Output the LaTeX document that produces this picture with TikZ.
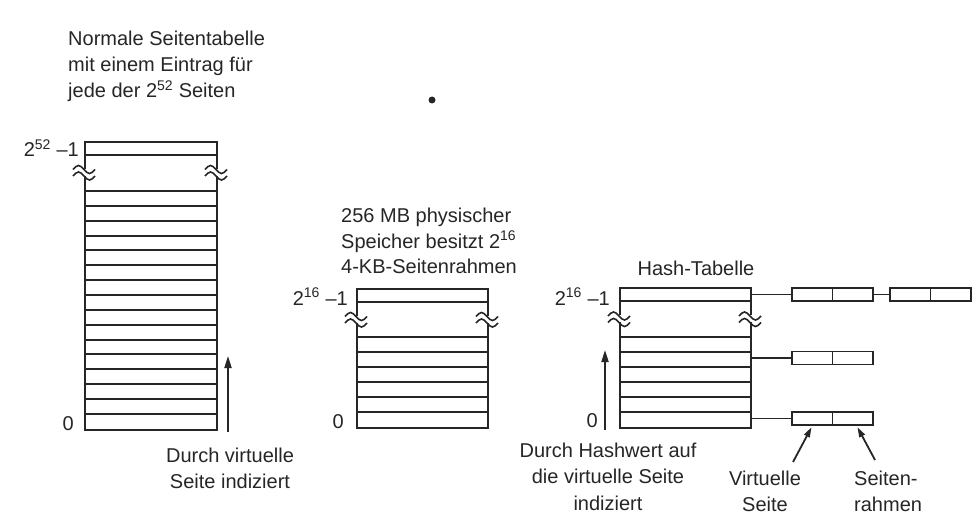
\documentclass[tikz,border=0pt]{standalone}
\usepackage{fontspec}
\setmainfont{Liberation Sans}
\usetikzlibrary{arrows.meta}
\definecolor{ink}{HTML}{262626}
\newcommand\brkmark[2]{%
  \fill[white] ({#1-3.5},{#2-3.5}) rectangle ({#1+3.5},{#2+3.5});
  \draw[brk] ({#1-11},{#2-2.5}) sin ({#1-5.5},{#2-6.5}) cos ({#1},{#2-2.5}) sin ({#1+5.5},{#2+1.5}) cos ({#1+11},{#2-2.5});
  \draw[brk] ({#1-11},{#2+4}) sin ({#1-5.5},{#2}) cos ({#1},{#2+4}) sin ({#1+5.5},{#2+8}) cos ({#1+11},{#2+4});
}
\begin{document}
\begin{tikzpicture}[x=1pt,y=-1pt,
  txt/.style={font=\fontsize{20}{26}\selectfont, text=ink, inner sep=0pt},
  tbl/.style={draw=ink, line width=1.8pt, inner sep=0pt, anchor=north west},
  row/.style={draw=ink, line width=1.8pt},
  brk/.style={draw=ink, line width=1.6pt},
  cell/.style={draw=ink, line width=1.8pt, minimum width=40.5pt, minimum height=13pt, inner sep=0pt},
  conn/.style={draw=ink, line width=1.8pt},
  arr/.style={draw=ink, line width=2pt, -{Triangle[length=12pt,width=7pt]}},
  sarr/.style={draw=ink, line width=1.8pt, -{Triangle[length=10pt,width=6pt]}, shorten >=1.5pt}]
\fill[white] (0,0) rectangle (979,532);
\useasboundingbox (0,0) rectangle (979,532);

% ---------- table 1 ----------
\node[tbl, minimum width=132pt, minimum height=288pt] (T1) at (84,141) {};
\foreach \y in {155,191,206,221,236,250,265,280,295,310,325,340,354,369,384,399,414}
  \draw[row] (84,\y) -- (216,\y);
\brkmark{84}{172}
\brkmark{216}{172}
\node[txt, anchor=base east] (T1top) at (79,157) {2\textsuperscript{52} –1};
\node[txt, anchor=base east] (T1zero) at (74,430) {0};
\coordinate (A1s) at (228,432);
\coordinate (A1e) at (228,356);
\draw[arr] (A1s) -- (A1e);
\node[txt, anchor=base] (D1a) at (230,462) {Durch virtuelle};
\node[txt, anchor=base] (D1b) at (230,488) {Seite indiziert};
\node[txt, anchor=base west] (N1a) at (68,46) {Normale Seitentabelle};
\node[txt, anchor=base west] (N1b) at (68,72) {mit einem Eintrag für};
\node[txt, anchor=base west] (N1c) at (68,98) {jede der 2\textsuperscript{52} Seiten};

% stray dot
\fill[ink] (432,100) circle (3.5pt);

% ---------- table 2 ----------
\node[tbl, minimum width=131pt, minimum height=139pt] (T2) at (356,288) {};
\foreach \y in {302,337,352,367,382,397,412}
  \draw[row] (356,\y) -- (487,\y);
\brkmark{356}{319}
\brkmark{487}{319}
\node[txt, anchor=base east] (T2top) at (348,305) {2\textsuperscript{16} –1};
\node[txt, anchor=base east] (T2zero) at (344,428) {0};
\node[txt, anchor=base west] (P1a) at (341,222) {256 MB physischer};
\node[txt, anchor=base west] (P1b) at (341,248) {Speicher besitzt 2\textsuperscript{16}};
\node[txt, anchor=base west] (P1c) at (341,273) {4-KB-Seitenrahmen};

% ---------- table 3 ----------
\node[tbl, minimum width=131pt, minimum height=140pt] (T3) at (619,287) {};
\foreach \y in {301,337,352,367,382,397,412}
  \draw[row] (619,\y) -- (750,\y);
\brkmark{619}{318.5}
\brkmark{750}{318.5}
\node[txt, anchor=base east] (T3top) at (610,305) {2\textsuperscript{16} –1};
\node[txt, anchor=base east] (T3zero) at (598,427) {0};
\node[txt, anchor=base] (HT) at (696,275) {Hash-Tabelle};
\coordinate (A3s) at (605,430);
\coordinate (A3e) at (605,350);
\draw[arr] (A3s) -- (A3e);
\node[txt, anchor=base] (D3a) at (608,457) {Durch Hashwert auf};
\node[txt, anchor=base] (D3b) at (608,483) {die virtuelle Seite};
\node[txt, anchor=base] (D3c) at (608,510) {indiziert};

% ---------- chains ----------
\node[cell] (C1a) at (812.25,294.5) {};
\node[cell] (C1b) at (852.75,294.5) {};
\node[cell] (C1c) at (910.25,294.5) {};
\node[cell] (C1d) at (950.75,294.5) {};
\node[cell] (C2a) at (812.25,358) {};
\node[cell] (C2b) at (852.75,358) {};
\node[cell] (C3a) at (812.25,418.5) {};
\node[cell] (C3b) at (852.75,418.5) {};
\draw[conn] (T3.east |- C1a.west) -- (C1a.west);
\draw[conn] (C1b.east) -- (C1c.west);
\draw[conn] (T3.east |- C2a.west) -- (C2a.west);
\draw[conn] (T3.east |- C3a.west) -- (C3a.west);

\coordinate (VA) at (793,462);
\coordinate (SA) at (875,460);
\draw[sarr] (VA) -- (C3a.south);
\draw[sarr] (SA) -- ([xshift=4pt]C3b.south);
\node[txt, anchor=base] (V1) at (765,485) {Virtuelle};
\node[txt, anchor=base] (V2) at (765,511) {Seite};
\node[txt, anchor=base west] (S1) at (854,485) {Seiten-};
\node[txt, anchor=base west] (S2) at (854,511) {rahmen};
\end{tikzpicture}
\end{document}
